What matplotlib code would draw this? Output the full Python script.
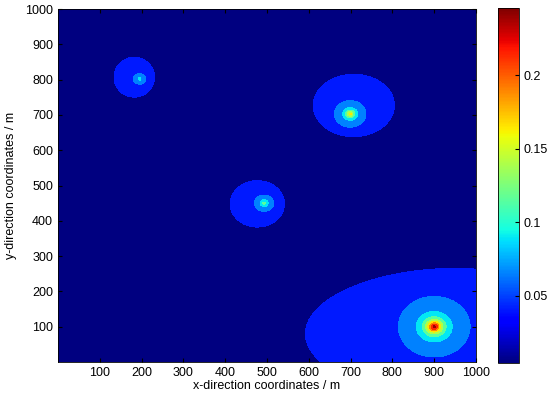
import numpy as np
import matplotlib
matplotlib.use("Agg")
import matplotlib.pyplot as plt
from matplotlib import colors as mcolors
from matplotlib.cm import ScalarMappable

# ---- data ----
src_x = [195, 493, 699, 900]          # source positions, m
src_y = [802, 450, 703, 100]
core_peak = [0.05, 0.075, 0.125, 0.201]   # peak of the narrow core
core_scale = [8.0, 8.0, 8.5, 13.0]        # core width, m
core_cut = [120, 150, 200, 500]           # core cut-off distance, m
core_power = 0.6
halo_x = [182, 476, 708, 960]          # centre of the broad halo, m
halo_y = [807, 448, 728, 80]
halo_rx = [51, 68, 102, 392]           # halo semi-axes, m
halo_ry = [60, 69, 92, 192]
halo_amp = 0.045
halo_sharp = 25.0

levels = [0.04, 0.065, 0.09, 0.115, 0.14, 0.165, 0.19, 0.215, 0.24]
cmin, cmax = 0.004, 0.246
x_ticks = [100, 200, 300, 400, 500, 600, 700, 800, 900, 1000]
y_ticks = [100, 200, 300, 400, 500, 600, 700, 800, 900, 1000]
cb_ticks = [0.05, 0.1, 0.15, 0.2]

plt.rcParams['font.family'] = ['Liberation Sans', 'DejaVu Sans']
plt.rcParams['font.size'] = 9

# ---- field ----
gx = np.linspace(0, 1000, 801)
gy = np.linspace(0, 1000, 801)
X, Y = np.meshgrid(gx, gy)
Z = np.zeros_like(X)
for i in range(len(src_x)):
    r2 = (X - src_x[i]) ** 2 + (Y - src_y[i]) ** 2
    Z += (core_peak[i] * (1 + r2 / core_scale[i] ** 2) ** (-core_power)
          * np.exp(-r2 / core_cut[i] ** 2))
    rho = np.sqrt(((X - halo_x[i]) / halo_rx[i]) ** 2 + ((Y - halo_y[i]) / halo_ry[i]) ** 2)
    Z += halo_amp / (1 + np.exp(np.clip(halo_sharp * (rho - 1), -50, 50)))

cmap = plt.get_cmap('jet')
norm = mcolors.Normalize(vmin=cmin, vmax=cmax)
lv = [-1.0] + levels + [10.0]
fill_colors = [cmap(0.0)] + [cmap(norm(v)) for v in levels]

fig = plt.figure(figsize=(5.5, 3.99), dpi=100)
ax = fig.add_axes([0.1055, 0.0927, 0.76, 0.8847])
ax.contourf(X, Y, Z, levels=lv, colors=fill_colors)
ax.set_xlim(0, 1000)
ax.set_ylim(0, 1000)
ax.set_xticks(x_ticks)
ax.set_yticks(y_ticks)
ax.tick_params(direction='in', length=3, top=True, right=True, labelsize=9)
ax.set_xlabel('x-direction coordinates / m', fontsize=9, labelpad=1)
ax.set_ylabel('y-direction coordinates / m', fontsize=9, labelpad=6)
for s in ax.spines.values():
    s.set_linewidth(0.6)

cax = fig.add_axes([0.9055, 0.0902, 0.038, 0.8898])
sm = ScalarMappable(norm=norm, cmap=cmap)
cb = fig.colorbar(sm, cax=cax, ticks=cb_ticks)
cb.ax.set_yticklabels(['0.05', '0.1', '0.15', '0.2'])
cb.ax.tick_params(direction='in', length=3, labelsize=9)
cb.outline.set_linewidth(0.6)

fig.savefig('out.png', dpi=100)
